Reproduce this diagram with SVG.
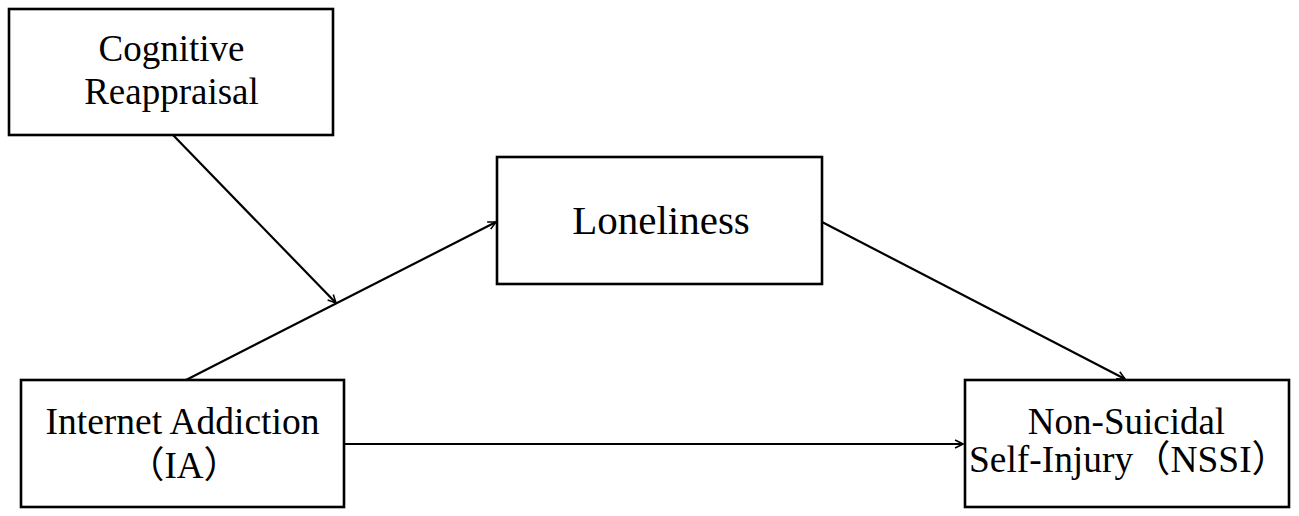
<svg xmlns="http://www.w3.org/2000/svg" width="1299" height="516" viewBox="0 0 1299 516">
<style>
.box{fill:#fff;stroke:#000;stroke-width:2.6}
.lbl{font-family:"Liberation Serif","Noto Sans CJK SC",serif;fill:#000;text-anchor:middle}
.lbl.start{text-anchor:start}
.edge{stroke:#000;stroke-width:2.2;fill:none;marker-end:url(#arr)}
</style>
<defs>
<marker id="arr" viewBox="0 0 10 10" refX="9" refY="5" markerWidth="4.5" markerHeight="4.5" orient="auto" markerUnits="strokeWidth">
<path d="M1,1 L9,5 L1,9" fill="none" stroke="#000" stroke-width="1.6"/>
</marker>
</defs>
<rect width="1299" height="516" fill="#fff"/>
<g id="connectors">
<line class="edge" x1="173" y1="135" x2="336" y2="303"/>
<line class="edge" x1="186" y1="380" x2="496" y2="222"/>
<line class="edge" x1="822" y1="222" x2="1125" y2="379"/>
<line class="edge" x1="344" y1="444" x2="963" y2="444"/>
</g>
<g id="node-cr">
<rect class="box" x="9" y="9" width="324" height="126"/>
<text class="lbl" x="171.5" y="61" font-size="37">Cognitive</text>
<text class="lbl" x="171.5" y="104" font-size="37">Reappraisal</text>
</g>
<g id="node-loneliness">
<rect class="box" x="497" y="157" width="325" height="127"/>
<text class="lbl" x="661" y="234" font-size="41">Loneliness</text>
</g>
<g id="node-ia">
<rect class="box" x="21" y="380" width="323" height="127"/>
<text class="lbl" x="182.5" y="434" font-size="37.5">Internet Addiction</text>
<text class="lbl" x="184" y="478" font-size="37">（IA）</text>
</g>
<g id="node-nssi">
<rect class="box" x="965" y="380" width="324" height="127"/>
<text class="lbl" x="1126.5" y="434" font-size="37">Non-Suicidal</text>
<text class="lbl start" x="969" y="472" font-size="37" textLength="320" lengthAdjust="spacingAndGlyphs">Self-Injury（NSSI）</text>
</g>
</svg>
